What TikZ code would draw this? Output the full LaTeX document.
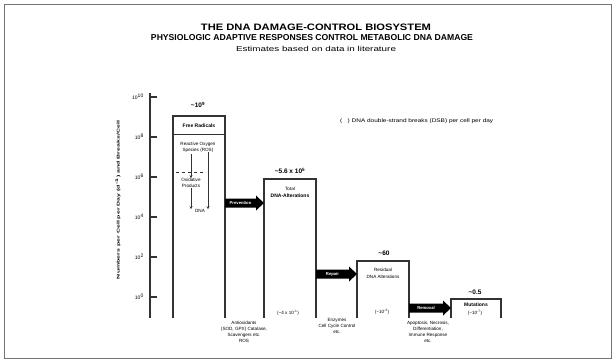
\documentclass[tikz,border=0pt]{standalone}
\usepackage{fontspec}
\setmainfont{Liberation Sans}
\usetikzlibrary{arrows.meta}
\newcommand\blkarrow[5]{%
  \fill[black] (#2,#4-4.5) -- (#3-8,#4-4.5) -- (#3-8,#4-7.5) -- (#3,#4) -- (#3-8,#4+7.5) -- (#3-8,#4+4.5) -- (#2,#4+4.5) -- cycle;
  \node[arrtxt] (#1) at ({(#2+#3-8)/2},#4) {#5};}
\begin{document}
\begin{tikzpicture}[x=1pt,y=-1pt,
  frame/.style={draw=black!55, line width=1pt},
  box/.style={draw=black!80, line width=1.1pt},
  axis/.style={draw=black!80, line width=1.1pt},
  tiny/.style={font=\fontsize{4.6}{6}\selectfont, align=center, inner sep=0pt},
  ticklbl/.style={font=\fontsize{5}{6}\selectfont, inner sep=0pt, anchor=east},
  ttl/.style={inner sep=0pt},
  val/.style={font=\fontsize{6.5}{7}\selectfont\bfseries, inner sep=0pt},
  inbold/.style={font=\fontsize{5}{6}\selectfont\bfseries, align=center, inner sep=0pt},
  thinl/.style={draw=black!80, line width=0.6pt},
  sarrow/.style={thinl, -{Stealth[length=3pt,width=3pt]}},
  arrtxt/.style={font=\fontsize{4.2}{4.5}\selectfont\bfseries, text=white, inner sep=0pt},
]
\useasboundingbox (0,0) rectangle (615,362);
\draw[frame] (4,4) rectangle (611,358);

% titles
\node[ttl] (t1) at (316,27) {\resizebox{230pt}{6.5pt}{\bfseries THE DNA DAMAGE-CONTROL BIOSYSTEM}};
\node[ttl] (t2) at (312,38) {\resizebox{322pt}{6pt}{\bfseries PHYSIOLOGIC ADAPTIVE RESPONSES CONTROL METABOLIC DNA DAMAGE}};
\node[ttl] (t3) at (316,49) {\resizebox{160pt}{5.2pt}{Estimates based on data in literature}};

% axis
\draw[axis] (150,93) -- (150,318);
\foreach \yy/\ee [count=\i] in {97/10,137/8,177/6,217/4,257/2,297/0}{
  \draw[axis] (150,\yy) -- (157,\yy);
  \node[ticklbl] (tk\i) at (144,\yy) {10\textsuperscript{\ee}};
}
\node[inner sep=0pt, rotate=90] (ylab) at (118,200) {\resizebox{158pt}{4.3pt}{\fontsize{5}{6}\selectfont\bfseries Numbers per Cell per Day (d\textsuperscript{-1}) and Breaks/Cell}};

% note
\node[inner sep=0pt, anchor=west] (note) at (340,121) {\resizebox{153pt}{3.8pt}{\fontsize{5}{6}\selectfont (\ \ \ ) DNA double-strand breaks (DSB) per cell per day}};

% box 1
\draw[box] (173,318) |- (225,116) -- (225,318);
\node[val] (v1) at (198,105) {\textasciitilde10\textsuperscript{9}};
\node[inbold] (fr) at (199,126) {Free Radicals};
\draw[thinl] (173,134) -- (225,134);
\node[tiny] (ros) at (198,147) {Reactive Oxygen\\Species (ROS)};
\draw[thinl, dashed] (176,172) -- (203,172);
\node[tiny] (ox) at (191,183) {Oxidative\\Products};
\node[tiny] (dna) at (200,211) {DNA};
\coordinate (rr) at (208,153);
\draw[sarrow] (ros.south -| ox) ++(0,2) -- (ox.north);
\draw[sarrow] (ox.south) -- (ox.south |- dna.north);
\draw[sarrow, line width=0.9pt] (ros.south -| rr) -- (rr |- dna.north);

% box 2
\draw[box] (264,318) |- (316,179) -- (316,318);
\node[val] (v2) at (290,171) {\textasciitilde5.6 x 10\textsuperscript{5}};
\node[tiny] (b2a) at (290,189) {Total};
\node[inbold] (b2b) at (290,196) {DNA-Alterations};
\node[tiny] (b2p) at (288,313) {(\textasciitilde4 x 10\textsuperscript{-1})};

% box 3
\draw[box] (357,318) |- (409,261) -- (409,318);
\node[val] (v3) at (384,253) {\textasciitilde60};
\node[tiny] (b3a) at (383,270) {Residual};
\node[tiny] (b3b) at (383,277) {DNA Alterations};
\node[tiny] (b3p) at (382,312) {(\textasciitilde10\textsuperscript{-3})};

% box 4
\draw[box] (451,318) |- (501,299) -- (501,318);
\node[val] (v4) at (475,292) {\textasciitilde0.5};
\node[inbold] (b4a) at (476,304.5) {Mutations};
\node[tiny] (b4p) at (475,312.5) {(\textasciitilde10\textsuperscript{-7})};

% big arrows
\blkarrow{a1}{225}{264}{203}{Prevention}
\blkarrow{a2}{316}{357}{274}{Repair}
\blkarrow{a3}{409}{451}{308}{Removal}

% bottom labels
\node[tiny, anchor=north] (bl1) at (244,321) {Antioxidants\\(SOD, GPX) Catalase,\\Scavengers etc.\\ROS};
\node[tiny, anchor=north] (bl2) at (337,318) {Enzymes\\Cell Cycle Control\\etc.};
\node[tiny, anchor=north] (bl3) at (428,321) {Apoptosis, Necrosis,\\Differentiation,\\Immune Response\\etc.};
\end{tikzpicture}
\end{document}
